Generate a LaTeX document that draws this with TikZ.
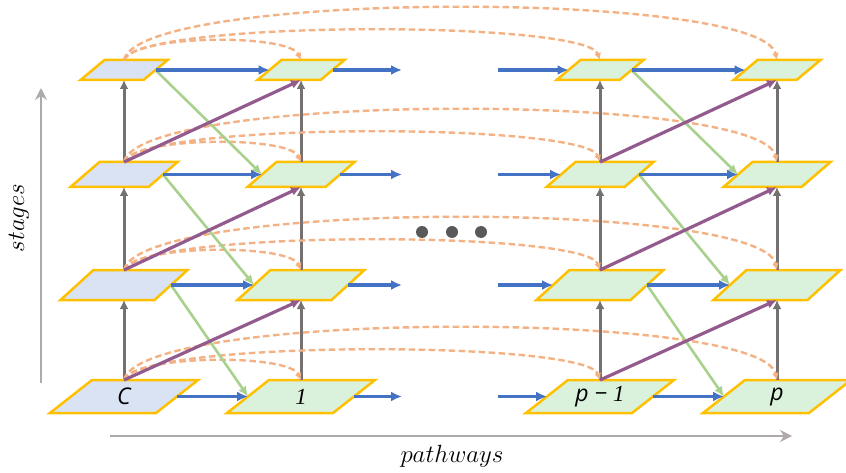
\documentclass[tikz,border=0pt]{standalone}
\usepackage{fontspec}
\newfontfamily\lblfont{Open Sans}
\newfontfamily\onefont{Liberation Serif}
\usetikzlibrary{arrows.meta,calc}
\definecolor{gold}{HTML}{FFC000}
\definecolor{bfill}{HTML}{DAE3F3}
\definecolor{gfill}{HTML}{DAF2DC}
\definecolor{hblue}{HTML}{4472C4}
\definecolor{vgray}{HTML}{767171}
\definecolor{purp}{HTML}{935A8E}
\definecolor{grn}{HTML}{A9D18E}
\definecolor{orng}{HTML}{F4B183}
\definecolor{axgray}{HTML}{AEAAAA}
\definecolor{dotc}{HTML}{595959}
\newcommand{\pgram}[8]{% name, cx, cy, w, h, s, fill, label
  \path[pgbox, fill=#7] ({#2-#4/2-#6/2},{#3+#5/2}) -- ({#2+#4/2-#6/2},{#3+#5/2}) -- ({#2+#4/2+#6/2},{#3-#5/2}) -- ({#2-#4/2+#6/2},{#3-#5/2}) -- cycle;
  \coordinate (#1-t) at (#2,{#3-#5/2});
  \coordinate (#1-b) at (#2,{#3+#5/2});
  \coordinate (#1-l) at ({#2-#4/2},#3);
  \coordinate (#1-r) at ({#2+#4/2},#3);
  \node[lbl] (#1) at (#2,#3) {#8};
}
\newcommand{\one}{{\onefont\itshape 1}}
\tikzset{
  pgbox/.style={draw=gold, line width=2.5pt, line join=miter},
  lbl/.style={font=\lblfont\itshape\fontsize{23}{25}\selectfont, inner sep=0pt},
  harr/.style={draw=hblue, line width=3.2pt, -{Latex[length=11pt,width=10pt]}},
  varr/.style={draw=vgray, line width=3pt, -{Latex[length=9pt,width=9pt]}},
  parr/.style={draw=purp, line width=3.2pt, -{Latex[length=10pt,width=9pt]}},
  garr/.style={draw=grn, line width=2.6pt, -{Latex[length=10pt,width=9pt]}},
  darr/.style={draw=orng, line width=2.4pt, dash pattern=on 6.5pt off 3.5pt, -{Latex[length=7pt,width=7pt]}},
  axis/.style={draw=axgray, line width=2.8pt, -{Stealth[length=12pt,width=12pt,inset=4pt]}},
  axlbl/.style={font=\fontsize{27}{30}\selectfont, inner sep=0pt},
  dotn/.style={circle, fill=dotc, minimum size=12pt, inner sep=0pt},
}
\begin{document}
\begin{tikzpicture}[x=1pt,y=-1pt]
\useasboundingbox (0,0) rectangle (846,473);
% row 1
\pgram{a1}{124}{70}{63}{20}{24}{bfill}{}
\pgram{b1}{301}{70}{63}{20}{24}{gfill}{}
\pgram{c1}{600}{70}{63}{20}{24}{gfill}{}
\pgram{d1}{777}{70}{63}{20}{24}{gfill}{}
% row 2
\pgram{a2}{124}{174.5}{78}{25}{29}{bfill}{}
\pgram{b2}{301}{174.5}{78}{25}{29}{gfill}{}
\pgram{c2}{600}{174.5}{78}{25}{29}{gfill}{}
\pgram{d2}{777}{174.5}{78}{25}{29}{gfill}{}
% row 3
\pgram{a3}{124}{285}{94}{30}{33}{bfill}{}
\pgram{b3}{301}{285}{94}{30}{33}{gfill}{}
\pgram{c3}{600}{285}{94}{30}{33}{gfill}{}
\pgram{d3}{777}{285}{94}{30}{33}{gfill}{}
% row 4
\pgram{a4}{124}{396.5}{106}{33}{42}{bfill}{C}
\pgram{b4}{301}{396.5}{106}{33}{42}{gfill}{\one}
\pgram{c4}{600}{396.5}{106}{33}{42}{gfill}{p − \one}
\pgram{d4}{777}{396.5}{106}{33}{42}{gfill}{p}
% free ends of the horizontal arrows
\foreach \r/\y in {1/70,2/174.5,3/285,4/396.5}{
  \coordinate (out\r) at (402,\y);
  \coordinate (in\r) at (498,\y);
}
% vertical arrows
\foreach \c in {a,b,c,d}{
  \draw[varr] (\c4-t) -- (\c3-b);
  \draw[varr] (\c3-t) -- (\c2-b);
  \draw[varr] (\c2-t) -- (\c1-b);
}
% dashed skip connections
\foreach \r in {1,2,3,4}{
  \draw[darr] (a\r-t) .. controls +(12,-26) and +(-12,-26) .. (b\r-t);
  \draw[darr] (a\r-t) .. controls +(14,-40) and +(-14,-40) .. (c\r-t);
  \draw[darr] (a\r-t) .. controls +(16,-70) and +(-16,-70) .. (d\r-t);
}
% green arrows
\foreach \u/\l in {1/2,2/3,3/4}{
  \draw[garr] (a\u-r) -- (b\l-l);
  \draw[garr] (c\u-r) -- (d\l-l);
}
% purple arrows
\foreach \l/\u in {4/3,3/2,2/1}{
  \draw[parr] (a\l-t) -- (b\u-b);
  \draw[parr] (c\l-t) -- (d\u-b);
}
% horizontal arrows
\foreach \r in {1,2,3,4}{
  \draw[harr] (a\r-r) -- (b\r-l);
  \draw[harr] (b\r-r) -- (out\r);
  \draw[harr] (in\r) -- (c\r-l);
  \draw[harr] (c\r-r) -- (d\r-l);
}
% dots
\node[dotn] (dot1) at (422,232) {};
\node[dotn] (dot2) at (452,232) {};
\node[dotn] (dot3) at (481,232) {};
% axes
\coordinate (vs) at (41,383);
\coordinate (ve) at (41,88);
\coordinate (hs) at (110,436);
\coordinate (he) at (792,436);
\draw[axis] (vs) -- (ve);
\draw[axis] (hs) -- (he);
\node[axlbl, rotate=90] (stg) at (19,218) {$stages$};
\node[axlbl] (pth) at (452,456) {$pathways$};
\end{tikzpicture}
\end{document}
